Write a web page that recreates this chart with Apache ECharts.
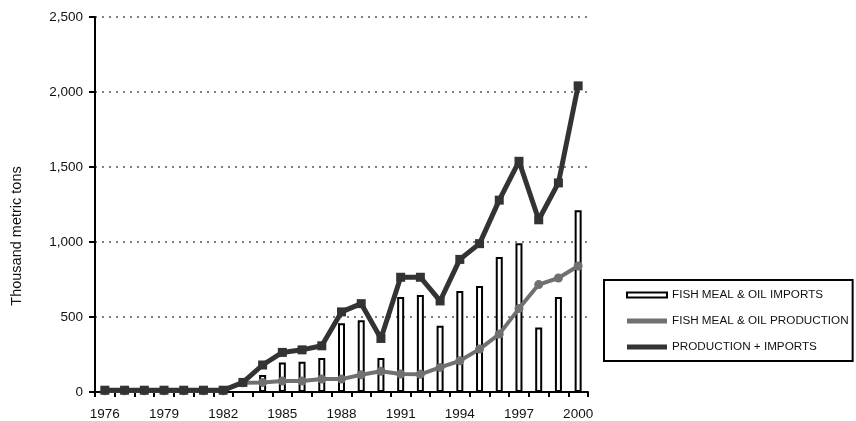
<!DOCTYPE html>
<html><head><meta charset="utf-8">
<script src="https://cdn.jsdelivr.net/npm/echarts@6/dist/echarts.min.js"></script>
<style>html,body{margin:0;padding:0;background:#fff}#c{width:856px;height:421px}</style>
</head><body><div id="c"></div>
<script>
const years = ['1976','1977','1978','1979','1980','1981','1982','1983','1984','1985','1986','1987','1988','1989','1990','1991','1992','1993','1994','1995','1996','1997','1998','1999','2000'];
const imports = [0,0,0,0,0,0,0,0,113,197,202,226,459,479,226,634,647,441,674,707,900,991,430,634,1212];
const production = [8,8,8,8,8,8,8,62,64,73,73,86,86,115,138,120,118,164,208,286,386,556,716,760,840];
const total = [12,12,12,12,12,12,12,64,180,264,281,308,534,589,357,765,765,607,884,989,1279,1538,1148,1394,2041];
const yTicks = [0,500,1000,1500,2000,2500];
const yTitle = 'Thousand metric tons';

const chart = echarts.init(document.getElementById('c'));
const font = 'Liberation Sans, Arial, sans-serif';
chart.setOption({
  animation: false,
  textStyle: {fontFamily: font},
  grid: {left: 95, right: 268, top: 17, bottom: 28, containLabel: false},
  graphic: [{
    type: 'text', x: 17, y: 236, rotation: Math.PI / 2,
    style: {text: yTitle, fontSize: 14.5, fontFamily: font, fill: '#111',
      textAlign: 'center', textVerticalAlign: 'middle'}
  }],
  legend: {
    orient: 'vertical', left: 604, top: 280,
    padding: [9, 4, 8, 22], itemGap: 14, itemWidth: 40, itemHeight: 5,
    borderColor: '#000', borderWidth: 2, backgroundColor: '#fff',
    textStyle: {fontFamily: font, fontSize: 11.7, color: '#111'},
    data: [
      {name: 'FISH MEAL & OIL IMPORTS', icon: 'rect', itemStyle: {color: '#fff', borderColor: '#000', borderWidth: 2}},
      {name: 'FISH MEAL & OIL PRODUCTION', icon: 'rect', itemStyle: {color: '#707070', borderWidth: 0}},
      {name: 'PRODUCTION + IMPORTS', icon: 'rect', itemStyle: {color: '#333', borderWidth: 0}}
    ]
  },
  xAxis: {
    type: 'category', data: years, boundaryGap: true,
    axisLine: {lineStyle: {color: '#000', width: 2}},
    axisTick: {show: true, interval: 0, length: 5, lineStyle: {color: '#000', width: 2}},
    axisLabel: {interval: 2, color: '#111', fontSize: 13.5, fontFamily: font, margin: 15},
    splitLine: {show: false}
  },
  yAxis: {
    type: 'value', min: 0, max: 2500, interval: 500,
    axisLine: {show: true, lineStyle: {color: '#000', width: 2}},
    axisTick: {show: true, length: 6, lineStyle: {color: '#000', width: 2}},
    axisLabel: {color: '#111', fontSize: 13.5, fontFamily: font, margin: 12,
      formatter: v => yTicks.includes(v) ? v.toLocaleString('en-US') : ''},
    splitLine: {show: true, lineStyle: {color: '#555', type: [2, 5], width: 1.5}}
  },
  series: [
    {name: 'FISH MEAL & OIL IMPORTS', type: 'bar', data: imports, barWidth: 7,
     itemStyle: {color: '#fff', borderColor: '#000', borderWidth: 2}, z: 1},
    {name: 'FISH MEAL & OIL PRODUCTION', type: 'line', data: production,
     symbol: 'circle', symbolSize: 9, showAllSymbol: true,
     lineStyle: {color: '#707070', width: 4}, itemStyle: {color: '#707070'}, z: 2},
    {name: 'PRODUCTION + IMPORTS', type: 'line', data: total,
     symbol: 'rect', symbolSize: 9, showAllSymbol: true,
     lineStyle: {color: '#333', width: 5}, itemStyle: {color: '#333'}, z: 3}
  ]
});
</script></body></html>
